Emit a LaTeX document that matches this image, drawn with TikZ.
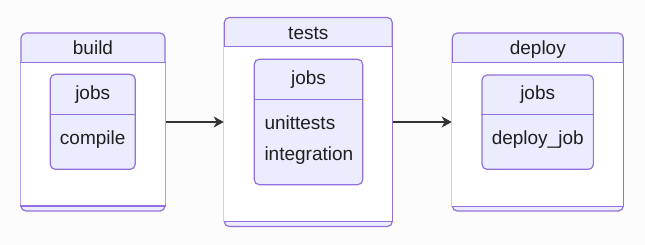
\documentclass[tikz,border=0pt]{standalone}
\usepackage{fontspec}
\setmainfont{Liberation Sans}
\usepackage{tikz}
\usepackage{xcolor}
\usetikzlibrary{arrows.meta, positioning, calc}
\definecolor{StateStroke}{HTML}{9370DB}
\definecolor{StateFill}{HTML}{ECECFF}
\definecolor{EdgeGray}{HTML}{333333}
\definecolor{PageBack}{HTML}{FCFCFC}

\begin{document}
\begin{tikzpicture}[x=1pt,y=-1pt,
    stage/.style={draw=StateStroke, fill=StateFill, line width=1.2pt, rounded corners=5pt, inner sep=0pt},
    jobbox/.style={draw=StateStroke, fill=StateFill, line width=1.2pt, rounded corners=5pt, inner sep=0pt},
    divider/.style={draw=StateStroke, line width=1.2pt},
    txt/.style={font=\fontsize{19}{23}\selectfont, text=black!88, inner sep=0pt, anchor=base},
    edge/.style={draw=EdgeGray, line width=1.2pt, -{Stealth[length=10pt, width=11pt, inset=3pt]}}]
            % Background and margins
            \fill[PageBack] (0,0) rectangle (645,245);
            \useasboundingbox (0,0) rectangle (645,245);

            % Stage boxes
            \node[stage, minimum width=144pt, minimum height=178pt] (build) at (93,122) {};
            \node[stage, minimum width=168pt, minimum height=209pt] (tests) at (308.3,122) {};
            \node[stage, minimum width=171pt, minimum height=178pt] (deploy) at (537.8,122) {};

            % White bodies between header and bottom strip
            \fill[white] ([xshift=0.6pt]build.west |- 0,62.3) rectangle ([xshift=-0.6pt]build.east |- 0,206);
            \fill[white] ([xshift=0.6pt]tests.west |- 0,46.7) rectangle ([xshift=-0.6pt]tests.east |- 0,221.7);
            \fill[white] ([xshift=0.6pt]deploy.west |- 0,62.3) rectangle ([xshift=-0.6pt]deploy.east |- 0,206.7);

            \draw[divider] (build.west |- 0,62.3) -- (build.east |- 0,62.3);
            \draw[divider] (build.west |- 0,206) -- (build.east |- 0,206);
            \draw[divider] (tests.west |- 0,46.7) -- (tests.east |- 0,46.7);
            \draw[divider] (tests.west |- 0,221.7) -- (tests.east |- 0,221.7);
            \draw[divider] (deploy.west |- 0,62.3) -- (deploy.east |- 0,62.3);
            \draw[divider] (deploy.west |- 0,206.7) -- (deploy.east |- 0,206.7);

            % Stage titles
            \node[txt] (buildtitle) at (93,54.3) {build};
            \node[txt] (teststitle) at (308.3,39.3) {tests};
            \node[txt] (deploytitle) at (537.8,54.3) {deploy};

            % Job boxes
            \node[jobbox, minimum width=85pt, minimum height=95pt] (buildjobs) at (92.7,121.8) {};
            \node[jobbox, minimum width=108.4pt, minimum height=125.4pt] (testsjobs) at (308.5,122) {};
            \node[jobbox, minimum width=111.3pt, minimum height=94.3pt] (deployjobs) at (537.7,122.2) {};

            \draw[divider] (buildjobs.west |- 0,114.3) -- (buildjobs.east |- 0,114.3);
            \draw[divider] (testsjobs.west |- 0,99.3) -- (testsjobs.east |- 0,99.3);
            \draw[divider] (deployjobs.west |- 0,114.3) -- (deployjobs.east |- 0,114.3);

            \node[txt] (buildjobstitle) at (92.7,100) {jobs};
            \node[txt] (testsjobstitle) at (308.5,84.5) {jobs};
            \node[txt] (deployjobstitle) at (537.7,100) {jobs};

            \node[txt] (compile) at (92.7,145) {compile};
            \node[txt, anchor=base west] (unittests) at (264.3,129.3) {unittests};
            \node[txt, anchor=base west] (integration) at (264.3,160.7) {integration};
            \node[txt] (deployjob) at (537.7,145) {deploy\_job};

            % Transitions
            \draw[edge] (build.east) -- (tests.west);
            \draw[edge] (tests.east) -- (deploy.west);
        \end{tikzpicture}
\end{document}
